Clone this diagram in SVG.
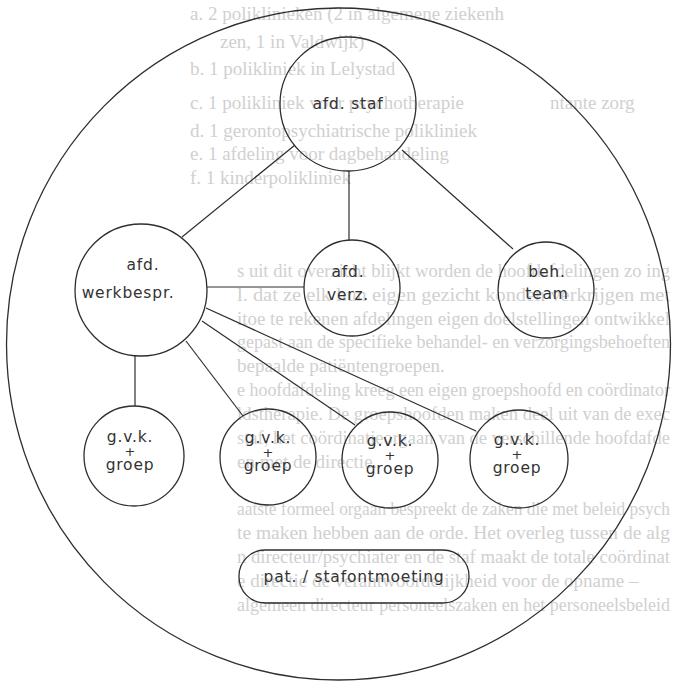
<svg xmlns="http://www.w3.org/2000/svg" width="674" height="683" viewBox="0 0 674 683">
<style>
.bg{font-family:"Liberation Serif",serif;font-size:19px;fill:#d0d0d0}
.n{fill:none;stroke:#2e2e2e;stroke-width:1.3}
.c{stroke:#2e2e2e;stroke-width:1.2;fill:none}
.t{font-family:"DejaVu Sans",sans-serif;font-size:15.5px;letter-spacing:0.8px;fill:#333333;text-anchor:middle}
.p{font-family:"DejaVu Sans",sans-serif;font-size:13px;fill:#333333;text-anchor:middle}
</style>
<rect width="674" height="683" fill="#ffffff"/>
<g id="background-text">
<text class="bg" x="190" y="20">a.  2 poliklinieken (2 in algemene ziekenh</text>
<text class="bg" x="220" y="48">zen, 1 in Valdwijk)</text>
<text class="bg" x="190" y="75">b.  1 polikliniek in Lelystad</text>
<text class="bg" x="190" y="109">c.  1 polikliniek voor psychotherapie</text>
<text class="bg" x="550" y="109">ntante zorg</text>
<text class="bg" x="190" y="137">d.  1 gerontopsychiatrische polikliniek</text>
<text class="bg" x="190" y="160">e.  1 afdeling voor dagbehandeling</text>
<text class="bg" x="190" y="184">f.  1 kinderpolikliniek</text>
<text class="bg" x="237" y="277" textLength="433" lengthAdjust="spacingAndGlyphs">s uit dit overzicht blijkt worden de hoofdafdelingen zo ing</text>
<text class="bg" x="237" y="301" textLength="433" lengthAdjust="spacingAndGlyphs">l. dat ze elk hun eigen gezicht konden verkrijgen met</text>
<text class="bg" x="237" y="325" textLength="433" lengthAdjust="spacingAndGlyphs">itoe te rekenen afdelingen eigen doelstellingen ontwikkel</text>
<text class="bg" x="237" y="348" textLength="433" lengthAdjust="spacingAndGlyphs">gepast aan de specifieke behandel- en verzorgingsbehoeften</text>
<text class="bg" x="237" y="372">bepaalde patiëntengroepen.</text>
<text class="bg" x="237" y="396" textLength="433" lengthAdjust="spacingAndGlyphs">e hoofdafdeling kreeg een eigen groepshoofd en coördinator</text>
<text class="bg" x="237" y="420" textLength="433" lengthAdjust="spacingAndGlyphs">ldstherapie. De groepshoofden maken deel uit van de exec</text>
<text class="bg" x="237" y="444" textLength="433" lengthAdjust="spacingAndGlyphs">staf, het coördinatieorgaan van de verschillende hoofdafde</text>
<text class="bg" x="237" y="468">en met de directie.</text>
<text class="bg" x="237" y="515" textLength="433" lengthAdjust="spacingAndGlyphs">aatste formeel orgaan bespreekt de zaken die met beleid psych</text>
<text class="bg" x="237" y="539" textLength="433" lengthAdjust="spacingAndGlyphs">te maken hebben aan de orde. Het overleg tussen de alg</text>
<text class="bg" x="237" y="563" textLength="433" lengthAdjust="spacingAndGlyphs">n directeur/psychiater en de staf maakt de totale coördinat</text>
<text class="bg" x="237" y="587">e directie de verantwoordelijkheid voor de opname –</text>
<text class="bg" x="237" y="611" textLength="433" lengthAdjust="spacingAndGlyphs">algemeen directeur personeelszaken en het personeelsbeleid</text>
</g>
<g id="outer-circle">
<ellipse class="n" cx="338.5" cy="344" rx="332" ry="336"/>
</g>
<g id="connectors">
<line class="c" x1="295" y1="145" x2="182" y2="237"/>
<line class="c" x1="349" y1="171" x2="349" y2="240"/>
<line class="c" x1="402" y1="150" x2="513" y2="249"/>
<line class="c" x1="207" y1="287" x2="304" y2="287"/>
<line class="c" x1="135" y1="356" x2="135" y2="406"/>
<line class="c" x1="186" y1="341" x2="243" y2="416"/>
<line class="c" x1="202" y1="321" x2="355" y2="425"/>
<line class="c" x1="206" y1="308" x2="476" y2="431"/>
</g>
<g id="afd-staf">
<ellipse class="n" cx="348" cy="104" rx="68" ry="67"/>
<text class="t" x="348" y="109">afd. staf</text>
</g>
<g id="afd-werkbespr">
<circle class="n" cx="141" cy="290" r="66"/>
<text class="t" x="143" y="270">afd.</text>
<text class="t" x="128" y="298">werkbespr.</text>
</g>
<g id="afd-verz">
<circle class="n" cx="352" cy="288" r="48"/>
<text class="t" x="348" y="277">afd.</text>
<text class="t" x="348" y="300">verz.</text>
</g>
<g id="beh-team">
<circle class="n" cx="546" cy="290" r="48"/>
<text class="t" x="547" y="277">beh.</text>
<text class="t" x="547" y="299">team</text>
</g>
<g id="gvk-1">
<circle class="n" cx="134" cy="456" r="50"/>
<text class="t" x="130" y="442">g.v.k.</text>
<text class="p" x="130" y="456">+</text>
<text class="t" x="130" y="470">groep</text>
</g>
<g id="gvk-2">
<circle class="n" cx="268" cy="457" r="48"/>
<text class="t" x="268" y="443">g.v.k.</text>
<text class="p" x="268" y="457">+</text>
<text class="t" x="268" y="471">groep</text>
</g>
<g id="gvk-3">
<circle class="n" cx="390" cy="460" r="48"/>
<text class="t" x="390" y="446">g.v.k.</text>
<text class="p" x="390" y="460">+</text>
<text class="t" x="390" y="474">groep</text>
</g>
<g id="gvk-4">
<circle class="n" cx="519" cy="459" r="49"/>
<text class="t" x="517" y="445">g.v.k.</text>
<text class="p" x="517" y="459">+</text>
<text class="t" x="517" y="473">groep</text>
</g>
<g id="pat-stafontmoeting">
<rect class="n" x="239" y="550" width="230" height="53" rx="26" ry="26"/>
<text class="t" x="354" y="582">pat. / stafontmoeting</text>
</g>
</svg>
